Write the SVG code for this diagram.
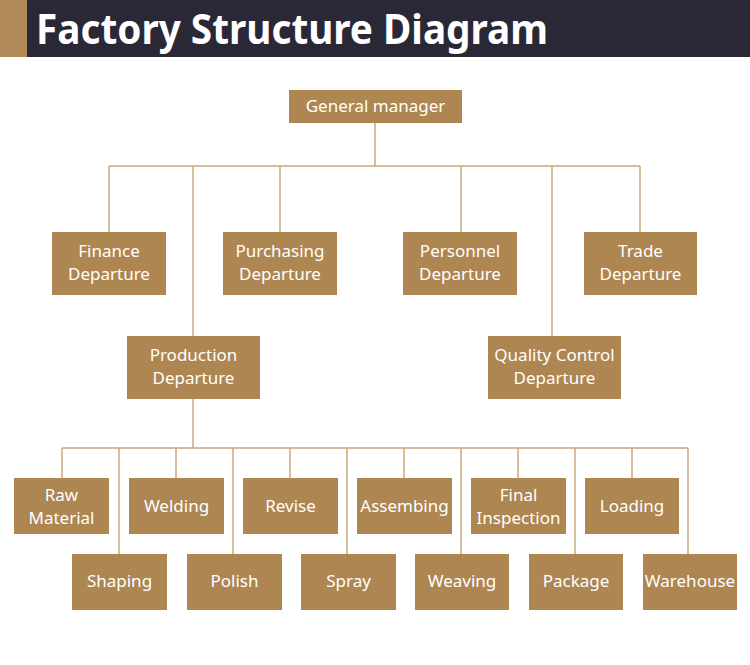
<svg xmlns="http://www.w3.org/2000/svg" width="750" height="665" viewBox="0 0 750 665">
<style>
.box{fill:#ae8651}
.t{font-family:"Noto Sans","Open Sans",sans-serif;font-size:17px;fill:#fff;text-anchor:middle}
.ln{stroke:#c9a97c;stroke-width:1.5;fill:none}
</style>
<rect x="0" y="0" width="750" height="665" fill="#fff"/>
<g id="header">
<rect x="0" y="0" width="27" height="57" fill="#b08a58"/>
<rect x="27" y="0" width="723" height="57" fill="#2a2836"/>
<text x="36" y="44" font-family="'Noto Sans','Open Sans',sans-serif" font-weight="bold" font-size="41" fill="#fff" textLength="512" lengthAdjust="spacingAndGlyphs">Factory Structure Diagram</text>
</g>
<g id="connectors">
<path class="ln" d="M375,123V166M109,166H640M109,166V232M193,166V336M280,166V232M461,166V232M552,166V336M640,166V232"/>
<path class="ln" d="M193,399V448M62,448H688M62,448V478M119,448V554M176,448V478M233,448V554M290,448V478M347,448V554M404,448V478M461,448V554M518,448V478M575,448V554M632,448V478M688,448V554"/>
</g>
<g id="gm"><rect class="box" x="289" y="90" width="173" height="33"/><text class="t" x="375.5" y="112">General manager</text></g>
<g id="finance"><rect class="box" x="52" y="232" width="114" height="63"/><text class="t" x="109" y="257">Finance</text><text class="t" x="109" y="280">Departure</text></g>
<g id="purchasing"><rect class="box" x="223" y="232" width="114" height="63"/><text class="t" x="280" y="257">Purchasing</text><text class="t" x="280" y="280">Departure</text></g>
<g id="personnel"><rect class="box" x="403" y="232" width="114" height="63"/><text class="t" x="460" y="257">Personnel</text><text class="t" x="460" y="280">Departure</text></g>
<g id="trade"><rect class="box" x="584" y="232" width="113" height="63"/><text class="t" x="640.5" y="257">Trade</text><text class="t" x="640.5" y="280">Departure</text></g>
<g id="production"><rect class="box" x="127" y="336" width="133" height="63"/><text class="t" x="193.5" y="361">Production</text><text class="t" x="193.5" y="384">Departure</text></g>
<g id="qc"><rect class="box" x="488" y="336" width="133" height="63"/><text class="t" x="554.5" y="361">Quality Control</text><text class="t" x="554.5" y="384">Departure</text></g>
<g id="raw"><rect class="box" x="14" y="478" width="95" height="56"/><text class="t" x="61.5" y="501">Raw</text><text class="t" x="61.5" y="524">Material</text></g>
<g id="welding"><rect class="box" x="129" y="478" width="95" height="56"/><text class="t" x="176.5" y="512">Welding</text></g>
<g id="revise"><rect class="box" x="243" y="478" width="95" height="56"/><text class="t" x="290.5" y="512">Revise</text></g>
<g id="assembing"><rect class="box" x="357" y="478" width="95" height="56"/><text class="t" x="404.5" y="512">Assembing</text></g>
<g id="final"><rect class="box" x="471" y="478" width="95" height="56"/><text class="t" x="518.5" y="501">Final</text><text class="t" x="518.5" y="524">Inspection</text></g>
<g id="loading"><rect class="box" x="585" y="478" width="94" height="56"/><text class="t" x="632" y="512">Loading</text></g>
<g id="shaping"><rect class="box" x="72" y="554" width="95" height="56"/><text class="t" x="119.5" y="587">Shaping</text></g>
<g id="polish"><rect class="box" x="187" y="554" width="95" height="56"/><text class="t" x="234.5" y="587">Polish</text></g>
<g id="spray"><rect class="box" x="301" y="554" width="95" height="56"/><text class="t" x="348.5" y="587">Spray</text></g>
<g id="weaving"><rect class="box" x="415" y="554" width="94" height="56"/><text class="t" x="462" y="587">Weaving</text></g>
<g id="package"><rect class="box" x="529" y="554" width="94" height="56"/><text class="t" x="576" y="587">Package</text></g>
<g id="warehouse"><rect class="box" x="643" y="554" width="94" height="56"/><text class="t" x="690" y="587">Warehouse</text></g>
</svg>
